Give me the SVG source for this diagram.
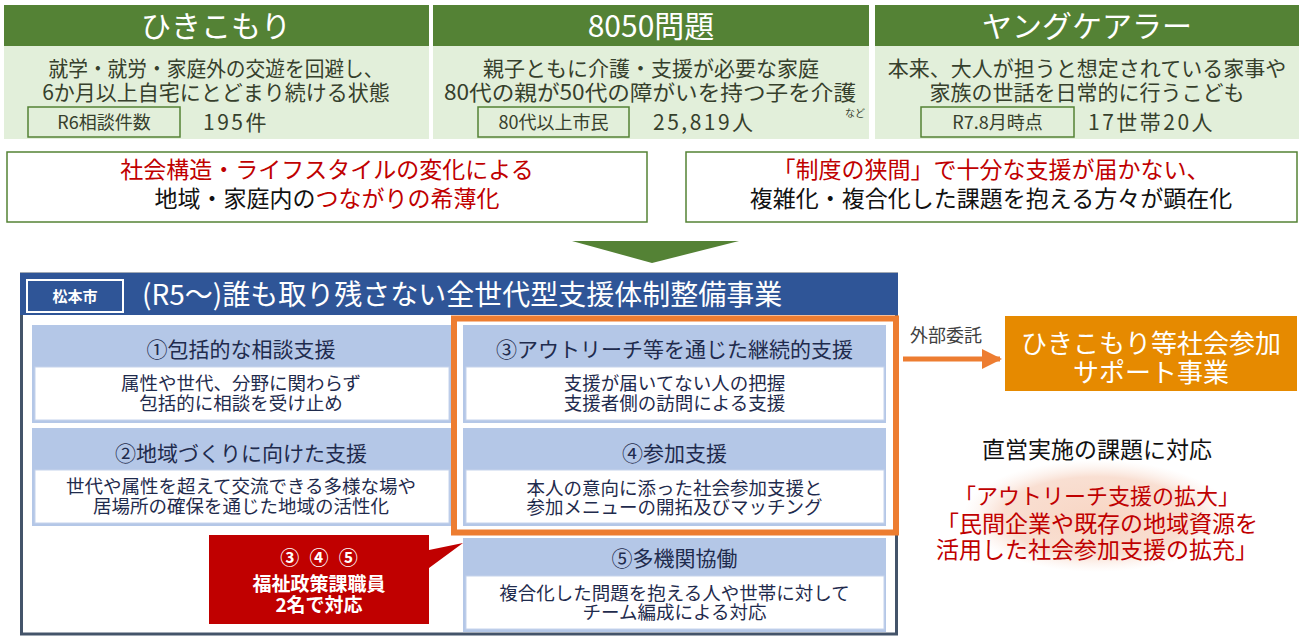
<svg xmlns="http://www.w3.org/2000/svg" width="1303" height="639" viewBox="0 0 1303 639">
<style>
text{font-family:"Noto Sans CJK JP","Noto Sans",sans-serif;}
.hd{fill:#548235;}
.bd{fill:#E2EFDA;}
.ht{fill:#fff;font-size:30px;text-anchor:middle;}
.bt{fill:#36402C;font-size:21px;text-anchor:middle;}
.lb{fill:none;stroke:#548235;stroke-width:1.5;}
.lt{fill:#36402C;font-size:18px;text-anchor:middle;}
.nt{fill:#36402C;font-size:21px;letter-spacing:2.5px;}
.mb{fill:#fff;stroke:#548235;stroke-width:1.5;}
.mt{font-size:23px;text-anchor:middle;fill:#111;}
.red{fill:#C00000;}
.lbx{fill:#B4C7E7;}
.wbx{fill:#fff;stroke:#C5D3EC;stroke-width:1;}
.sh{fill:#1F2B4D;font-size:21px;text-anchor:middle;}
.sb{fill:#1F2B4D;font-size:18.5px;text-anchor:middle;}
.ct{fill:#fff;font-size:19px;font-weight:bold;text-anchor:middle;}
.rt{fill:#C00000;font-size:23px;text-anchor:middle;}
</style>
<defs>
<radialGradient id="pink" cx="0.5" cy="0.5" r="0.5">
<stop offset="0" stop-color="#F8D6C4"/>
<stop offset="0.7" stop-color="#F9DFD2"/>
<stop offset="1" stop-color="#FCEEE7" stop-opacity="0"/>
</radialGradient>
<marker id="ah" viewBox="0 0 10 10" refX="9" refY="5" markerWidth="4" markerHeight="4.4" orient="auto" markerUnits="strokeWidth">
<path d="M0,0 L10,5 L0,10 Z" fill="#ED7D31"/>
</marker>
</defs>

<g id="hikikomori">
<rect class="hd" x="4" y="5" width="425" height="41"/>
<rect class="bd" x="4" y="46" width="425" height="93"/>
<text class="ht" x="216" y="37">ひきこもり</text>
<text class="bt" x="216" y="76" textLength="335" lengthAdjust="spacingAndGlyphs">就学・就労・家庭外の交遊を回避し、</text>
<text class="bt" x="216" y="100">6か月以上自宅にとどまり続ける状態</text>
<rect class="lb" x="28" y="107" width="152" height="30"/>
<text class="lt" x="104" y="129">R6相談件数</text>
<text class="nt" x="203" y="130">195件</text>
</g>

<g id="p8050">
<rect class="hd" x="433" y="5" width="436" height="41"/>
<rect class="bd" x="433" y="46" width="436" height="93"/>
<text class="ht" x="651" y="37">8050問題</text>
<text class="bt" x="651" y="76">親子ともに介護・支援が必要な家庭</text>
<text class="bt" x="650" y="100" textLength="412" lengthAdjust="spacingAndGlyphs">80代の親が50代の障がいを持つ子を介護</text>
<text x="845" y="117" style="font-size:10px;fill:#36402C;">など</text>
<rect class="lb" x="478" y="107" width="151" height="30"/>
<text class="lt" x="553.5" y="129">80代以上市民</text>
<text class="nt" x="653" y="130">25,819人</text>
</g>

<g id="youngcarer">
<rect class="hd" x="875" y="5" width="424" height="41"/>
<rect class="bd" x="875" y="46" width="424" height="93"/>
<text class="ht" x="1087" y="37">ヤングケアラー</text>
<text class="bt" x="1087" y="76">本来、大人が担うと想定されている家事や</text>
<text class="bt" x="1087" y="100">家族の世話を日常的に行うこども</text>
<rect class="lb" x="921" y="107" width="153" height="30"/>
<text class="lt" x="997.5" y="129">R7.8月時点</text>
<text class="nt" x="1088" y="130">17世帯20人</text>
</g>

<g id="cause-left">
<rect class="mb" x="7" y="152" width="640" height="70"/>
<text class="mt red" x="327" y="178">社会構造・ライフスタイルの変化による</text>
<text class="mt" x="327" y="207">地域・家庭内の<tspan class="red">つながりの希薄化</tspan></text>
</g>

<g id="cause-right">
<rect class="mb" x="686" y="152" width="611" height="70"/>
<text class="mt red" x="991" y="178">「制度の狭間」で十分な支援が届かない、</text>
<text class="mt" x="991" y="207">複雑化・複合化した課題を抱える方々が顕在化</text>
</g>

<g id="down-arrow">
<polygon points="572,241 739,241 652,263" fill="#548235"/>
</g>

<g id="panel">
<rect x="21.5" y="274" width="875" height="360" fill="#fff" stroke="#44546A" stroke-width="3"/>
<rect x="20" y="273" width="878" height="42" fill="#2F5597"/>
<rect x="27" y="280" width="96" height="32" fill="#2F5597" stroke="#fff" stroke-width="2"/>
<text x="75" y="302" style="fill:#fff;font-size:15px;font-weight:bold;text-anchor:middle;">松本市</text>
<text x="142" y="305" style="fill:#fff;font-size:28px;">(R5～)誰も取り残さない全世代型支援体制整備事業</text>
</g>

<g id="box1">
<rect class="lbx" x="32" y="325" width="419" height="98"/>
<rect class="wbx" x="35" y="367" width="414" height="53"/>
<text class="sh" x="241" y="357">①包括的な相談支援</text>
<text class="sb" x="241" y="390">属性や世代、分野に関わらず</text>
<text class="sb" x="241" y="410">包括的に相談を受け止め</text>
</g>

<g id="box2">
<rect class="lbx" x="32" y="428" width="419" height="98"/>
<rect class="wbx" x="35" y="470" width="414" height="53"/>
<text class="sh" x="241" y="461">②地域づくりに向けた支援</text>
<text class="sb" x="241" y="493">世代や属性を超えて交流できる多様な場や</text>
<text class="sb" x="241" y="513">居場所の確保を通じた地域の活性化</text>
</g>

<g id="box3">
<rect class="lbx" x="463" y="325" width="423" height="98"/>
<rect class="wbx" x="466" y="367" width="418" height="53"/>
<text class="sh" x="674.5" y="357">③アウトリーチ等を通じた継続的支援</text>
<text class="sb" x="674.5" y="390">支援が届いてない人の把握</text>
<text class="sb" x="674.5" y="410">支援者側の訪問による支援</text>
</g>

<g id="box4">
<rect class="lbx" x="463" y="428" width="423" height="98"/>
<rect class="wbx" x="466" y="470" width="418" height="53"/>
<text class="sh" x="674.5" y="461">④参加支援</text>
<text class="sb" x="674.5" y="495">本人の意向に添った社会参加支援と</text>
<text class="sb" x="674.5" y="514">参加メニューの開拓及びマッチング</text>
</g>

<g id="box5">
<rect class="lbx" x="463" y="538" width="423" height="94"/>
<rect class="wbx" x="466" y="576" width="418" height="53"/>
<text class="sh" x="674.5" y="566">⑤多機関協働</text>
<text class="sb" x="674.5" y="600">複合化した問題を抱える人や世帯に対して</text>
<text class="sb" x="674.5" y="619">チーム編成による対応</text>
</g>

<g id="outreach-frame">
<rect x="454" y="318.5" width="442" height="214" fill="none" stroke="#ED7D31" stroke-width="6"/>
</g>

<g id="callout">
<path d="M209,535 H429 V550 L463,543 L429,568 V624 H209 Z" fill="#C00000"/>
<text class="ct" x="319" y="565" style="word-spacing:6px;">③ ④ ⑤</text>
<text class="ct" x="319" y="591">福祉政策課職員</text>
<text class="ct" x="319" y="612">2名で対応</text>
</g>

<g id="connectors">
<line x1="903" y1="359" x2="1000" y2="359" stroke="#ED7D31" stroke-width="5" marker-end="url(#ah)"/>
<text x="910" y="342" style="fill:#404040;font-size:18px;">外部委託</text>
</g>

<g id="support-project">
<rect x="1005" y="316" width="292" height="75" fill="#E68A00"/>
<text x="1151" y="353" style="fill:#fff;font-size:26px;text-anchor:middle;">ひきこもり等社会参加</text>
<text x="1151" y="382" style="fill:#fff;font-size:26px;text-anchor:middle;">サポート事業</text>
</g>

<g id="direct-issue">
<ellipse cx="1097" cy="516" rx="134" ry="56" fill="url(#pink)"/>
<text x="1097" y="458" style="fill:#111;font-size:23px;text-anchor:middle;">直営実施の課題に対応</text>
<text class="rt" x="1097" y="504" style="font-size:22px;">「アウトリーチ支援の拡大」</text>
<text class="rt" x="1097" y="532">「民間企業や既存の地域資源を</text>
<text class="rt" x="1097" y="558">活用した社会参加支援の拡充」</text>
</g>
</svg>
